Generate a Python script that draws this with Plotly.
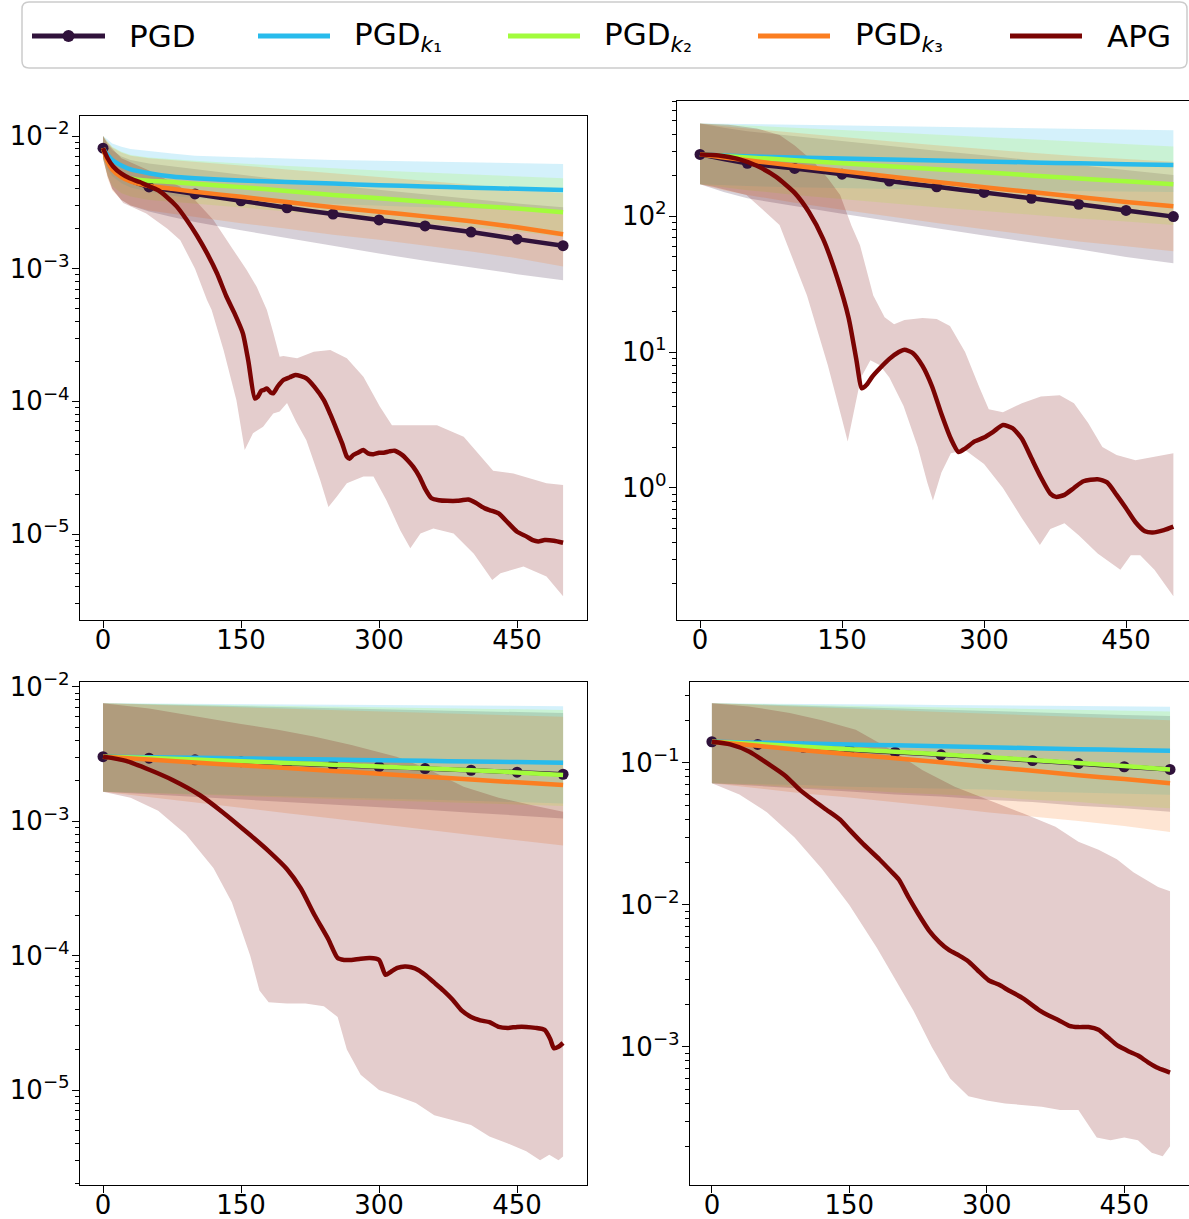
import plotly.graph_objects as go

W, H = 1189, 1219

# colours (turbo samples)
C_PGD = '#30123b'
C_K1 = '#28bbec'
C_K2 = '#a2fc3c'
C_K3 = '#fb7e21'
C_APG = '#7a0403'

LEGEND_LABELS = ['PGD', 'PGD<sub><i>k</i>₁</sub>', 'PGD<sub><i>k</i>₂</sub>', 'PGD<sub><i>k</i>₃</sub>', 'APG']
X_TICKS = [0, 150, 300, 450]

# ---------------- top-left panel ----------------
TL_IT = [0, 5, 10, 20, 30, 50, 75, 100, 150, 200, 250, 300, 350, 400, 450, 500]
TL_PGD = [8.1e-3, 6.6e-3, 5.8e-3, 5.0e-3, 4.6e-3, 4.13e-3, 3.88e-3, 3.66e-3, 3.25e-3, 2.88e-3, 2.58e-3, 2.33e-3, 2.10e-3, 1.89e-3, 1.67e-3, 1.49e-3]
TL_PGD_LO = [6.8e-3, 5.0e-3, 4.0e-3, 3.3e-3, 3.0e-3, 2.7e-3, 2.45e-3, 2.25e-3, 1.95e-3, 1.7e-3, 1.5e-3, 1.3e-3, 1.15e-3, 1.02e-3, 0.91e-3, 0.82e-3]
TL_PGD_HI = [1.0e-2, 8.6e-3, 7.8e-3, 7.0e-3, 6.6e-3, 6.2e-3, 5.9e-3, 5.6e-3, 5.1e-3, 4.65e-3, 4.25e-3, 3.9e-3, 3.6e-3, 3.35e-3, 3.1e-3, 2.9e-3]
TL_K1 = [8.1e-3, 7.2e-3, 6.6e-3, 6.0e-3, 5.6e-3, 5.25e-3, 4.95e-3, 4.8e-3, 4.62e-3, 4.5e-3, 4.38e-3, 4.26e-3, 4.17e-3, 4.08e-3, 4.0e-3, 3.92e-3]
TL_K1_LO = [6.8e-3, 5.6e-3, 5.0e-3, 4.4e-3, 4.1e-3, 3.8e-3, 3.55e-3, 3.4e-3, 3.25e-3, 3.15e-3, 3.05e-3, 2.97e-3, 2.9e-3, 2.85e-3, 2.8e-3, 2.77e-3]
TL_K1_HI = [1.0e-2, 9.4e-3, 8.8e-3, 8.3e-3, 8.0e-3, 7.7e-3, 7.4e-3, 7.1e-3, 6.9e-3, 6.75e-3, 6.6e-3, 6.5e-3, 6.4e-3, 6.3e-3, 6.22e-3, 6.15e-3]
TL_K2 = [8.1e-3, 6.6e-3, 5.8e-3, 5.1e-3, 4.8e-3, 4.6e-3, 4.5e-3, 4.37e-3, 4.12e-3, 3.85e-3, 3.6e-3, 3.4e-3, 3.2e-3, 3.0e-3, 2.84e-3, 2.66e-3]
TL_K2_LO = [6.8e-3, 5.0e-3, 4.2e-3, 3.7e-3, 3.5e-3, 3.3e-3, 3.2e-3, 3.1e-3, 2.9e-3, 2.7e-3, 2.5e-3, 2.35e-3, 2.2e-3, 2.05e-3, 1.9e-3, 1.74e-3]
TL_K2_HI = [1.0e-2, 9.0e-3, 8.3e-3, 7.6e-3, 7.2e-3, 6.9e-3, 6.7e-3, 6.5e-3, 6.2e-3, 5.95e-3, 5.7e-3, 5.5e-3, 5.3e-3, 5.1e-3, 4.95e-3, 4.8e-3]
TL_K3 = [8.1e-3, 6.4e-3, 5.6e-3, 4.9e-3, 4.55e-3, 4.2e-3, 4.0e-3, 3.8e-3, 3.48e-3, 3.18e-3, 2.9e-3, 2.69e-3, 2.48e-3, 2.28e-3, 2.05e-3, 1.82e-3]
TL_K3_LO = [6.8e-3, 4.8e-3, 3.9e-3, 3.3e-3, 3.0e-3, 2.75e-3, 2.6e-3, 2.45e-3, 2.2e-3, 2.0e-3, 1.8e-3, 1.65e-3, 1.5e-3, 1.35e-3, 1.2e-3, 1.04e-3]
TL_K3_HI = [1.0e-2, 9.0e-3, 8.2e-3, 7.5e-3, 7.1e-3, 6.8e-3, 6.6e-3, 6.4e-3, 6.0e-3, 5.6e-3, 5.2e-3, 4.9e-3, 4.6e-3, 4.3e-3, 4.0e-3, 3.7e-3]

TL_APG_IT = [0, 5, 11, 20, 29, 40, 47, 60, 69, 80, 91, 102, 113, 124, 134, 143, 152, 158, 165, 168, 172, 175, 178, 182, 185,
             190, 196, 203, 209, 215, 221, 230, 240, 247, 254, 260, 265, 268, 272, 277, 283, 288, 294, 300, 305, 311, 317,
             325, 331, 337, 344, 350, 357, 365, 374, 385, 390, 397, 405, 415, 422, 430, 440, 450, 460, 467, 473, 480, 490, 500]
TL_APG = [8.1e-3, 6.8e-3, 5.9e-3, 5.2e-3, 4.8e-3, 4.5e-3, 4.27e-3, 3.9e-3, 3.49e-3, 2.95e-3, 2.33e-3, 1.78e-3, 1.31e-3,
          9.2e-4, 6.2e-4, 4.6e-4, 3.26e-4, 2.0e-4, 1.05e-4, 1.08e-4, 1.2e-4, 1.22e-4, 1.25e-4, 1.17e-4, 1.15e-4,
          1.3e-4, 1.45e-4, 1.52e-4, 1.58e-4, 1.55e-4, 1.49e-4, 1.28e-4, 1.02e-4, 8.0e-5, 6.1e-5, 4.8e-5, 3.83e-5, 3.7e-5,
          3.94e-5, 4.1e-5, 4.3e-5, 4.05e-5, 4.0e-5, 4.1e-5, 4.1e-5, 4.2e-5, 4.25e-5, 3.95e-5, 3.6e-5, 3.22e-5, 2.7e-5,
          2.2e-5, 1.86e-5, 1.8e-5, 1.78e-5, 1.78e-5, 1.8e-5, 1.82e-5, 1.72e-5, 1.56e-5, 1.5e-5, 1.43e-5, 1.22e-5, 1.04e-5,
          9.6e-6, 9.0e-6, 8.8e-6, 9.0e-6, 8.9e-6, 8.6e-6]
TL_APG_HI_IT = [0, 5, 20, 50, 84, 100, 120, 140, 156, 167, 178, 185, 192, 196, 211, 229, 247, 265, 283, 301, 314, 337,
                363, 392, 424, 446, 482, 500]
TL_APG_HI = [1.0e-2, 8.8e-3, 6.8e-3, 5.5e-3, 4.15e-3, 3.3e-3, 2.33e-3, 1.44e-3, 9.8e-4, 7.3e-4, 4.9e-4, 3.3e-4, 2.17e-4,
             2.2e-4, 2.11e-4, 2.37e-4, 2.44e-4, 2.11e-4, 1.53e-4, 9.1e-5, 6.6e-5, 6.6e-5, 6.6e-5, 5.4e-5, 3.0e-5, 2.86e-5,
             2.41e-5, 2.34e-5]
TL_APG_LO_IT = [0, 5, 10, 22, 47, 70, 84, 100, 113, 118, 131, 145, 154, 163, 174, 185, 192, 200, 210, 221, 236, 245, 254,
                265, 283, 294, 308, 323, 334, 345, 359, 381, 403, 423, 432, 457, 482, 500]
TL_APG_LO = [6.8e-3, 5.0e-3, 4.0e-3, 3.13e-3, 2.61e-3, 2.0e-3, 1.64e-3, 1.0e-3, 5.8e-4, 4.9e-4, 2.44e-4, 1.02e-4, 4.3e-5,
             5.75e-5, 6.45e-5, 8.1e-5, 8.4e-5, 9.7e-5, 7.0e-5, 5.1e-5, 2.55e-5, 1.6e-5, 1.91e-5, 2.41e-5, 2.71e-5, 2.71e-5,
             1.8e-5, 1.07e-5, 7.8e-6, 1.01e-5, 1.1e-5, 1.01e-5, 7.1e-6, 4.5e-6, 5.06e-6, 5.68e-6, 4.78e-6, 3.4e-6]

# ---------------- top-right panel ----------------
TR_IT = [0, 25, 50, 100, 150, 200, 250, 300, 350, 400, 450, 500]
TR_PGD = [284, 262, 244, 224, 203, 181, 164, 149, 135, 122, 110, 99]
TR_PGD_LO = [171, 150, 135, 118, 104, 92, 81, 72, 64, 57, 50, 45]
TR_PGD_HI = [480, 445, 420, 385, 355, 328, 302, 280, 258, 238, 218, 200]
TR_K1 = [284, 279, 275, 269, 265, 260, 256, 252, 248, 244, 240, 237]
TR_K1_LO = [171, 168, 166, 163, 160, 158, 156, 155, 154, 152, 151, 150]
TR_K1_HI = [480, 478, 475, 470, 465, 459, 454, 449, 444, 439, 433, 428]
TR_K2 = [284, 276, 270, 257, 244, 232, 221, 210, 199, 189, 180, 171]
TR_K2_LO = [171, 162, 155, 143, 133, 124, 116, 109, 102, 96, 91, 86]
TR_K2_HI = [480, 470, 462, 446, 430, 414, 398, 383, 368, 352, 338, 324]
TR_K3 = [284, 269, 257, 234, 214, 195, 178, 163, 150, 138, 127, 118]
TR_K3_LO = [171, 155, 143, 125, 111, 99, 89, 80, 72, 65, 60, 55]
TR_K3_HI = [480, 458, 440, 410, 380, 355, 332, 310, 292, 275, 262, 251]

TR_APG_IT = [0, 20, 40, 60, 80, 100, 115, 130, 145, 157, 165, 171, 176, 182, 190, 200, 210, 216, 225, 235, 245, 255, 265,
             273, 280, 290, 300, 310, 320, 330, 340, 350, 360, 370, 376, 385, 395, 405, 420, 430, 440, 450, 460, 470, 478,
             490, 500]
TR_APG = [284, 279, 263, 234, 195, 148, 107, 68, 35, 17.8, 8.9, 5.4, 5.75, 6.6, 7.6, 8.9, 10.0, 10.4, 9.8, 7.9, 5.6, 3.5,
          2.3, 1.84, 1.95, 2.2, 2.35, 2.6, 2.9, 2.75, 2.3, 1.66, 1.2, 0.91, 0.86, 0.89, 1.0, 1.12, 1.16, 1.1, 0.89, 0.71,
          0.56, 0.48, 0.47, 0.49, 0.52]
TR_APG_HI_IT = [0, 30, 60, 84, 100, 120, 135, 148, 160, 169, 183, 195, 205, 216, 235, 250, 264, 280, 295, 305, 320, 340,
                360, 380, 395, 410, 425, 440, 460, 480, 500]
TR_APG_HI = [480, 470, 440, 395, 330, 251, 190, 143, 85, 61, 26, 18, 16, 17.2, 17.8, 17.5, 15.5, 10, 5.5, 3.8, 3.6, 4.2,
             4.7, 4.8, 4.2, 3.0, 2.0, 1.75, 1.6, 1.7, 1.8]
TR_APG_LO_IT = [0, 14, 49, 84, 113, 135, 150, 156, 162, 170, 180, 190, 200, 215, 230, 240, 246, 255, 265, 280, 300, 320,
                340, 359, 370, 385, 400, 420, 444, 455, 465, 480, 500]
TR_APG_LO = [171, 164, 143, 86, 26, 8, 3.2, 2.2, 3.5, 6.5, 8.7, 8.0, 6.5, 4.0, 2.0, 1.1, 0.81, 1.3, 1.8, 1.9, 1.5, 1.0,
             0.6, 0.38, 0.5, 0.55, 0.45, 0.33, 0.25, 0.32, 0.32, 0.25, 0.16]

# ---------------- bottom-left panel ----------------
BL_IT = [0, 50, 100, 150, 200, 250, 300, 350, 400, 450, 500]
BL_PGD = [3.03e-3, 2.95e-3, 2.87e-3, 2.78e-3, 2.70e-3, 2.62e-3, 2.55e-3, 2.47e-3, 2.40e-3, 2.32e-3, 2.24e-3]
BL_PGD_LO = [1.66e-3, 1.59e-3, 1.52e-3, 1.46e-3, 1.40e-3, 1.34e-3, 1.28e-3, 1.22e-3, 1.16e-3, 1.10e-3, 1.05e-3]
BL_PGD_HI = [7.56e-3, 7.44e-3, 7.32e-3, 7.2e-3, 7.08e-3, 6.96e-3, 6.84e-3, 6.72e-3, 6.6e-3, 6.5e-3, 6.4e-3]
BL_K1 = [3.03e-3, 3.0e-3, 2.97e-3, 2.94e-3, 2.91e-3, 2.88e-3, 2.85e-3, 2.82e-3, 2.79e-3, 2.76e-3, 2.73e-3]
BL_K1_LO = [1.66e-3, 1.63e-3, 1.6e-3, 1.57e-3, 1.54e-3, 1.51e-3, 1.48e-3, 1.45e-3, 1.42e-3, 1.39e-3, 1.36e-3]
BL_K1_HI = [7.56e-3, 7.52e-3, 7.49e-3, 7.45e-3, 7.41e-3, 7.38e-3, 7.34e-3, 7.31e-3, 7.27e-3, 7.24e-3, 7.2e-3]
BL_K2 = [3.03e-3, 2.96e-3, 2.88e-3, 2.8e-3, 2.72e-3, 2.64e-3, 2.56e-3, 2.48e-3, 2.4e-3, 2.31e-3, 2.21e-3]
BL_K2_LO = [1.66e-3, 1.62e-3, 1.58e-3, 1.54e-3, 1.51e-3, 1.47e-3, 1.44e-3, 1.4e-3, 1.37e-3, 1.33e-3, 1.3e-3]
BL_K2_HI = [7.56e-3, 7.47e-3, 7.39e-3, 7.3e-3, 7.22e-3, 7.14e-3, 7.06e-3, 6.98e-3, 6.9e-3, 6.83e-3, 6.75e-3]
BL_K3 = [3.03e-3, 2.88e-3, 2.74e-3, 2.61e-3, 2.49e-3, 2.37e-3, 2.26e-3, 2.15e-3, 2.05e-3, 1.95e-3, 1.86e-3]
BL_K3_LO = [1.66e-3, 1.51e-3, 1.38e-3, 1.26e-3, 1.15e-3, 1.05e-3, 9.6e-4, 8.7e-4, 7.9e-4, 7.2e-4, 6.6e-4]
BL_K3_HI = [7.56e-3, 7.38e-3, 7.21e-3, 7.05e-3, 6.88e-3, 6.72e-3, 6.57e-3, 6.42e-3, 6.27e-3, 6.13e-3, 6.0e-3]

BL_APG_IT = [0, 25, 51, 75, 105, 130, 160, 180, 200, 215, 230, 245, 255, 262, 270, 280, 290, 300, 307, 313, 320, 328, 335,
             343, 350, 360, 370, 380, 390, 400, 410, 420, 430, 440, 450, 460, 470, 480, 486, 490, 495, 500]
BL_APG = [3.03e-3, 2.82e-3, 2.41e-3, 2.04e-3, 1.57e-3, 1.17e-3, 7.9e-4, 6.0e-4, 4.4e-4, 3.16e-4, 2.0e-4, 1.32e-4, 9.6e-5,
          9.3e-5, 9.3e-5, 9.5e-5, 9.6e-5, 9.3e-5, 7.2e-5, 7.6e-5, 8.1e-5, 8.3e-5, 8.2e-5, 7.8e-5, 7.2e-5, 6.3e-5, 5.5e-5,
          4.7e-5, 3.9e-5, 3.5e-5, 3.3e-5, 3.2e-5, 2.95e-5, 2.9e-5, 2.95e-5, 2.95e-5, 2.9e-5, 2.8e-5, 2.4e-5, 2.05e-5,
          2.1e-5, 2.24e-5]
BL_APG_HI_IT = [0, 50, 102, 150, 190, 229, 270, 319, 350, 392, 430, 470, 500]
BL_APG_HI = [7.56e-3, 6.9e-3, 6.0e-3, 5.3e-3, 4.8e-3, 4.27e-3, 3.7e-3, 3.03e-3, 2.5e-3, 1.81e-3, 1.5e-3, 1.3e-3, 1.18e-3]
BL_APG_LO_IT = [0, 30, 60, 90, 120, 140, 160, 170, 180, 200, 220, 240, 255, 265, 280, 300, 320, 340, 360, 380, 400, 420,
                440, 460, 475, 485, 495, 500]
BL_APG_LO = [1.66e-3, 1.5e-3, 1.2e-3, 8e-4, 4.5e-4, 2.5e-4, 1.0e-4, 5.5e-5, 4.5e-5, 4.4e-5, 4.4e-5, 4.2e-5, 3.5e-5,
             2.0e-5, 1.3e-5, 1.0e-5, 9e-6, 8e-6, 6.5e-6, 6e-6, 5.5e-6, 4.5e-6, 4e-6, 3.5e-6, 3.0e-6, 3.3e-6, 3.0e-6, 3.2e-6]

# ---------------- bottom-right panel ----------------
BR_IT = [0, 50, 100, 150, 200, 250, 300, 350, 400, 450, 500]
BR_PGD = [0.141, 0.135, 0.129, 0.124, 0.119, 0.114, 0.109, 0.104, 0.099, 0.094, 0.090]
BR_PGD_LO = [0.072, 0.069, 0.066, 0.063, 0.06, 0.058, 0.055, 0.053, 0.05, 0.048, 0.0454]
BR_PGD_HI = [0.263, 0.258, 0.253, 0.248, 0.243, 0.238, 0.233, 0.228, 0.223, 0.218, 0.214]
BR_K1 = [0.141, 0.139, 0.137, 0.135, 0.133, 0.131, 0.129, 0.127, 0.125, 0.1235, 0.122]
BR_K1_LO = [0.072, 0.071, 0.07, 0.068, 0.067, 0.066, 0.065, 0.063, 0.062, 0.061, 0.0596]
BR_K1_HI = [0.263, 0.262, 0.260, 0.259, 0.258, 0.256, 0.255, 0.254, 0.252, 0.251, 0.249]
BR_K2 = [0.141, 0.136, 0.130, 0.125, 0.120, 0.115, 0.110, 0.105, 0.100, 0.095, 0.090]
BR_K2_LO = [0.072, 0.07, 0.067, 0.065, 0.062, 0.06, 0.058, 0.055, 0.053, 0.05, 0.048]
BR_K2_HI = [0.263, 0.259, 0.256, 0.253, 0.249, 0.246, 0.243, 0.240, 0.236, 0.233, 0.23]
BR_K3 = [0.141, 0.132, 0.123, 0.115, 0.108, 0.101, 0.094, 0.088, 0.082, 0.077, 0.072]
BR_K3_LO = [0.072, 0.066, 0.061, 0.057, 0.053, 0.049, 0.045, 0.042, 0.039, 0.036, 0.0327]
BR_K3_HI = [0.263, 0.256, 0.249, 0.242, 0.235, 0.228, 0.222, 0.216, 0.210, 0.205, 0.200]

BR_APG_IT = [0, 20, 41, 60, 80, 96, 110, 125, 140, 150, 165, 183, 195, 204, 215, 225, 237, 248, 259, 270, 280, 290, 302,
             313, 324, 340, 357, 368, 378, 390, 400, 411, 422, 432, 443, 455, 465, 476, 487, 500]
BR_APG = [0.141, 0.135, 0.120, 0.1, 0.0813, 0.0646, 0.055, 0.0468, 0.0398, 0.0339, 0.0269, 0.0209, 0.0174, 0.0151, 0.0112,
          8.7e-3, 6.6e-3, 5.5e-3, 4.8e-3, 4.4e-3, 4.0e-3, 3.47e-3, 2.95e-3, 2.75e-3, 2.5e-3, 2.19e-3, 1.82e-3, 1.66e-3,
          1.55e-3, 1.41e-3, 1.38e-3, 1.38e-3, 1.32e-3, 1.17e-3, 1.02e-3, 9.3e-4, 8.7e-4, 7.8e-4, 7.1e-4, 6.6e-4]
BR_APG_HI_IT = [0, 40, 85, 120, 157, 190, 230, 265, 302, 340, 375, 400, 422, 442, 460, 487, 500]
BR_APG_HI = [0.263, 0.25, 0.225, 0.2, 0.171, 0.13, 0.089, 0.068, 0.055, 0.044, 0.0356, 0.0279, 0.0245, 0.021, 0.017,
             0.0134, 0.0125]
BR_APG_LO_IT = [0, 30, 60, 90, 120, 150, 180, 200, 220, 240, 260, 280, 300, 320, 340, 360, 380, 400, 420, 435, 450, 465,
                480, 492, 500]
BR_APG_LO = [0.072, 0.06, 0.045, 0.03, 0.018, 0.01, 5e-3, 3e-3, 1.8e-3, 1.0e-3, 6e-4, 4.5e-4, 4.2e-4, 4.0e-4, 3.9e-4,
             3.8e-4, 3.6e-4, 3.6e-4, 2.3e-4, 2.2e-4, 2.3e-4, 2.2e-4, 1.8e-4, 1.7e-4, 2.0e-4]

# --------------------------------------------------------------------------
PANELS = [
    dict(ax='', box=(80, 116, 587, 620), xr=[-25, 526], yr=[-5.648, -1.849], mirror_y=True,
         it=TL_IT, pgd=(TL_PGD, TL_PGD_LO, TL_PGD_HI), k1=(TL_K1, TL_K1_LO, TL_K1_HI),
         k2=(TL_K2, TL_K2_LO, TL_K2_HI), k3=(TL_K3, TL_K3_LO, TL_K3_HI),
         apg=(TL_APG_IT, TL_APG, TL_APG_LO_IT, TL_APG_LO, TL_APG_HI_IT, TL_APG_HI), dec=range(-6, -1)),
    dict(ax='2', box=(677, 101, 1189, 620), xr=[-24.3, 516.5], yr=[-0.971, 2.846], mirror_y=False,
         it=TR_IT, pgd=(TR_PGD, TR_PGD_LO, TR_PGD_HI), k1=(TR_K1, TR_K1_LO, TR_K1_HI),
         k2=(TR_K2, TR_K2_LO, TR_K2_HI), k3=(TR_K3, TR_K3_LO, TR_K3_HI),
         apg=(TR_APG_IT, TR_APG, TR_APG_LO_IT, TR_APG_LO, TR_APG_HI_IT, TR_APG_HI), dec=range(-1, 3)),
    dict(ax='3', box=(80, 682, 587, 1185), xr=[-25, 526], yr=[-5.707, -1.963], mirror_y=True,
         it=BL_IT, pgd=(BL_PGD, BL_PGD_LO, BL_PGD_HI), k1=(BL_K1, BL_K1_LO, BL_K1_HI),
         k2=(BL_K2, BL_K2_LO, BL_K2_HI), k3=(BL_K3, BL_K3_LO, BL_K3_HI),
         apg=(BL_APG_IT, BL_APG, BL_APG_LO_IT, BL_APG_LO, BL_APG_HI_IT, BL_APG_HI), dec=range(-6, -1)),
    dict(ax='4', box=(690, 682, 1189, 1185), xr=[-23.9, 520.7], yr=[-3.972, -0.430], mirror_y=False,
         it=BR_IT, pgd=(BR_PGD, BR_PGD_LO, BR_PGD_HI), k1=(BR_K1, BR_K1_LO, BR_K1_HI),
         k2=(BR_K2, BR_K2_LO, BR_K2_HI), k3=(BR_K3, BR_K3_LO, BR_K3_HI),
         apg=(BR_APG_IT, BR_APG, BR_APG_LO_IT, BR_APG_LO, BR_APG_HI_IT, BR_APG_HI), dec=range(-4, 0)),
]


def rgba(hexc, a):
    h = hexc.lstrip('#')
    return f'rgba({int(h[0:2], 16)},{int(h[2:4], 16)},{int(h[4:6], 16)},{a})'


FONT = 'DejaVu Sans'
LW = 4.5
ALPHA = 0.2
TICK_SIZE = 26
SMOOTH = dict(shape='spline', smoothing=0.6)
fig = go.Figure()
layout = dict(template='none', width=W, height=H, margin=dict(l=0, r=0, t=0, b=0, autoexpand=False),
              paper_bgcolor='white', plot_bgcolor='rgba(0,0,0,0)', showlegend=False,
              font=dict(family=FONT, color='black'))


def sup_label(e):
    s = str(e).replace('-', '\u2212')
    return f'10<sup>{s}</sup>'


for p in PANELS:
    xa, ya = 'x' + p['ax'], 'y' + p['ax']
    x0, y0, x1, y1 = p['box']
    it = p['it']
    # bands
    for (mean, lo, hi), col in [(p['pgd'], C_PGD), (p['k1'], C_K1), (p['k2'], C_K2), (p['k3'], C_K3)]:
        fig.add_trace(go.Scatter(x=list(it) + list(it)[::-1], y=list(lo) + list(hi)[::-1], fill='toself',
                                 fillcolor=rgba(col, ALPHA), line=dict(width=0), mode='lines',
                                 hoverinfo='skip', xaxis=xa, yaxis=ya))
    a_it, a_m, a_lo_it, a_lo, a_hi_it, a_hi = p['apg']
    fig.add_trace(go.Scatter(x=list(a_lo_it) + list(a_hi_it)[::-1], y=list(a_lo) + list(a_hi)[::-1], fill='toself',
                             fillcolor=rgba(C_APG, ALPHA), line=dict(width=0), mode='lines',
                             hoverinfo='skip', xaxis=xa, yaxis=ya))
    # lines
    pm = p['pgd'][0]
    fig.add_trace(go.Scatter(x=it, y=pm, mode='lines', line=dict(color=C_PGD, width=LW, **SMOOTH), xaxis=xa, yaxis=ya))
    mk_x = [i for i in it if i % 50 == 0]
    mk_y = [v for i, v in zip(it, pm) if i % 50 == 0]
    fig.add_trace(go.Scatter(x=mk_x, y=mk_y, mode='markers', marker=dict(color=C_PGD, size=11, line=dict(width=0)),
                             xaxis=xa, yaxis=ya))
    for (mean, lo, hi), col in [(p['k1'], C_K1), (p['k2'], C_K2), (p['k3'], C_K3)]:
        fig.add_trace(go.Scatter(x=it, y=mean, mode='lines', line=dict(color=col, width=LW, **SMOOTH),
                                 xaxis=xa, yaxis=ya))
    fig.add_trace(go.Scatter(x=a_it, y=a_m, mode='lines', line=dict(color=C_APG, width=LW, **SMOOTH),
                             xaxis=xa, yaxis=ya))

    major = [10.0 ** e for e in p['dec']]
    minor = [k * 10.0 ** e for e in list(p['dec']) + [max(p['dec']) + 1] for k in range(2, 10)]
    layout['xaxis' + p['ax']] = dict(domain=[x0 / W, x1 / W], anchor=ya, range=p['xr'], showgrid=False, zeroline=False,
                                      automargin=False, ticklabelstandoff=-10,
                                      showline=True, linecolor='black', linewidth=1.2, mirror=True,
                                      ticks='outside', ticklen=7, tickwidth=1.2, tickcolor='black',
                                      tickvals=X_TICKS, ticktext=[str(v) for v in X_TICKS],
                                      tickfont=dict(size=TICK_SIZE, family=FONT, color='black'))
    layout['yaxis' + p['ax']] = dict(domain=[1 - y1 / H, 1 - y0 / H], anchor=xa, type='log', range=p['yr'],
                                      automargin=False, ticklabelstandoff=-3,
                                      showgrid=False, zeroline=False, showline=True, linecolor='black', linewidth=1.2,
                                      mirror=p['mirror_y'], ticks='outside', ticklen=7, tickwidth=1.2,
                                      tickcolor='black', tickvals=major, ticktext=[sup_label(e) for e in p['dec']],
                                      tickfont=dict(size=TICK_SIZE, family=FONT, color='black'),
                                      minor=dict(tickvals=minor, ticks='outside', ticklen=4, tickwidth=1,
                                                 tickcolor='black', showgrid=False))

# ---------------- legend (drawn manually) ----------------
shapes = []
annotations = []
bx0, by0, bx1, by1, r = 22, 2, 1187, 68, 7
X0, X1 = bx0 / W, bx1 / W
Y0, Y1 = 1 - by1 / H, 1 - by0 / H
rx, ry = r / W, r / H
path = (f'M {X0 + rx},{Y1} L {X1 - rx},{Y1} Q {X1},{Y1} {X1},{Y1 - ry} L {X1},{Y0 + ry} Q {X1},{Y0} {X1 - rx},{Y0} '
        f'L {X0 + rx},{Y0} Q {X0},{Y0} {X0},{Y0 + ry} L {X0},{Y1 - ry} Q {X0},{Y1} {X0 + rx},{Y1} Z')
shapes.append(dict(type='path', path=path, xref='paper', yref='paper', line=dict(color='#cccccc', width=1.5),
                   fillcolor='rgba(255,255,255,0.8)', layer='above'))
leg_y = 36
leg_items = [(32, 105, 127, C_PGD), (258, 330, 352, C_K1), (508, 580, 602, C_K2), (758, 830, 853, C_K3),
             (1010, 1082, 1105, C_APG)]
for idx, (lx0, lx1, tx, col) in enumerate(leg_items):
    shapes.append(dict(type='line', xref='paper', yref='paper', x0=lx0 / W, x1=lx1 / W, y0=1 - leg_y / H,
                       y1=1 - leg_y / H, line=dict(color=col, width=5), layer='above'))
    if idx == 0:
        cx = (lx0 + lx1) / 2
        shapes.append(dict(type='circle', xref='paper', yref='paper', x0=(cx - 6) / W, x1=(cx + 6) / W,
                           y0=1 - (leg_y + 6) / H, y1=1 - (leg_y - 6) / H, fillcolor=col, line=dict(color=col, width=0),
                           layer='above'))
    annotations.append(dict(text=LEGEND_LABELS[idx], x=tx / W, y=1 - leg_y / H, xref='paper', yref='paper',
                            xanchor='left', yanchor='middle', showarrow=False,
                            font=dict(size=31, family=FONT, color='black')))

layout['shapes'] = shapes
layout['annotations'] = annotations
fig.update_layout(**layout)
fig.write_html('out.html', config={'displayModeBar': False},
               post_script="document.body.style.margin='0px';document.body.style.overflow='hidden';")
